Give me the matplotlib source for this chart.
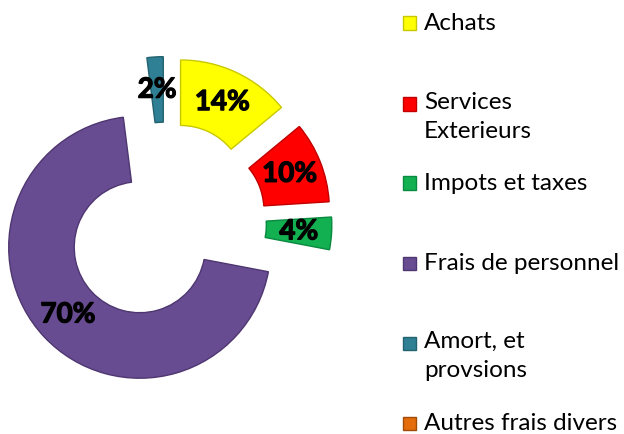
import matplotlib as mpl
import matplotlib.pyplot as plt
import matplotlib.patheffects as pe
from matplotlib.patches import Rectangle

mpl.rcParams['font.family'] = ['Lato', 'DejaVu Sans']

# data
categories = ['Achats', 'Services\nExterieurs', 'Impots et taxes',
              'Frais de personnel', 'Amort, et\nprovsions', 'Autres frais divers']
shares = [14, 10, 4, 70, 2, 0]
colours = ['#FFFF00', '#FF0000', '#12B050', '#684C92', '#2F7F95', '#E46C0A']
edges = ['#C8C800', '#C00000', '#0A8A40', '#4E3670', '#23626F', '#A04C06']

fig = plt.figure(figsize=(6.24, 4.34), dpi=100)
W, H = 624, 434

# donut, placed so that its centre/radius match the picture (px)
cx, cy, R = 165.5, 223, 131
ax = fig.add_axes([(cx - 1.5 * R) / W, (H - cy - 1.5 * R) / H, 3 * R / W, 3 * R / H])

vals = [v for v in shares if v > 0]
cols = [c for v, c in zip(shares, colours) if v > 0]
ecs = [c for v, c in zip(shares, edges) if v > 0]

wedges, texts, autotexts = ax.pie(
    vals, colors=cols, startangle=90, counterclock=False,
    explode=[0.27] * len(vals), radius=1.0,
    autopct='%1.0f%%', pctdistance=0.75,
    wedgeprops=dict(width=0.5, linewidth=1.0),
    textprops=dict(fontsize=20, fontweight='bold', color='black'))
for w, ec in zip(wedges, ecs):
    w.set_edgecolor(ec)
# Calibri bold is heavier than Lato bold, thicken a little
for t in autotexts:
    t.set_path_effects([pe.withStroke(linewidth=0.9, foreground='black')])
ax.set_xlim(-1.5, 1.5)
ax.set_ylim(-1.5, 1.5)
ax.set_aspect('equal')
ax.axis('off')

# legend drawn by hand (Excel keeps wrapped entries on a fixed pitch)
legend_y = [23, 104, 183, 263, 343, 423]
for lab, col, ec, y in zip(categories, colours, edges, legend_y):
    fig.patches.append(Rectangle((403 / W, (H - y - 6.5) / H), 13 / W, 13 / H,
                                 transform=fig.transFigure, facecolor=col,
                                 edgecolor=ec, linewidth=1))
    if '\n' in lab:
        fig.text(424 / W, (H - y + 12) / H, lab, fontsize=17.5, va='top',
                 ha='left', linespacing=1.45, color='black')
    else:
        fig.text(424 / W, (H - y) / H, lab, fontsize=17.5, va='center',
                 ha='left', color='black')

plt.savefig('out.png', dpi=100)
